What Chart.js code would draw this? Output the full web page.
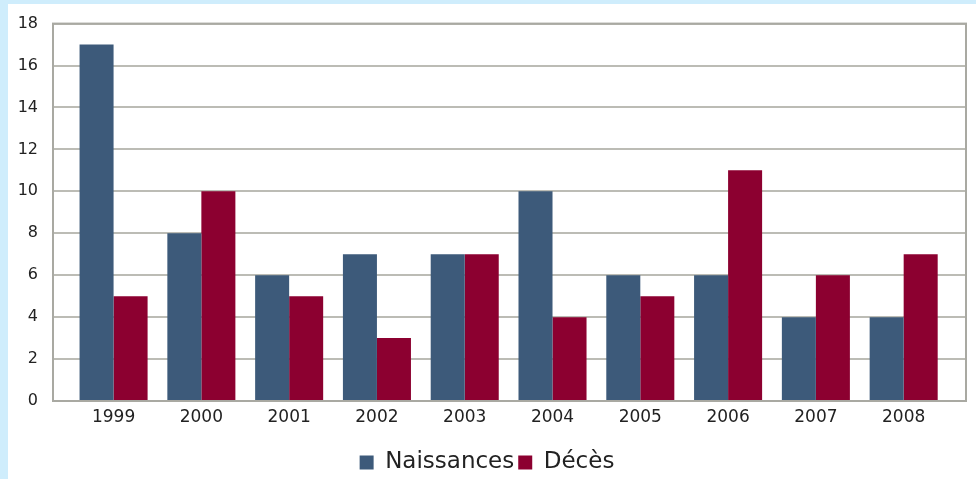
<!DOCTYPE html>
<html>
<head>
<meta charset="utf-8">
<script src="https://cdn.jsdelivr.net/npm/chart.js@4/dist/chart.umd.min.js"></script>
<style>
  html, body { margin: 0; padding: 0; background: #cfedfc; overflow: hidden; }
  #box { position: absolute; left: 8px; top: 4px; width: 968px; height: 475px; background: #fff; overflow: hidden; }
  #wrap { position: absolute; left: 0; top: -5px; width: 968px; height: 485px; }
</style>
</head>
<body>
<div id="box"><div id="wrap"><canvas id="births"></canvas></div></div>
<script>
// Data
const years = ['1999', '2000', '2001', '2002', '2003', '2004', '2005', '2006', '2007', '2008'];
const naissances = [17, 8, 6, 7, 7, 10, 6, 6, 4, 4];
const deces = [5, 10, 5, 3, 7, 4, 5, 11, 6, 7];

// frame round the plot area
const frame = {
  id: 'frame',
  afterDatasetsDraw(chart) {
    const a = chart.chartArea, c = chart.ctx;
    c.save();
    c.strokeStyle = '#a9a9a2';
    c.lineWidth = 2;
    c.strokeRect(a.left, a.top, a.right - a.left, a.bottom - a.top);
    c.restore();
  }
};

const ctx = document.getElementById('births').getContext('2d');
new Chart(ctx, {
  type: 'bar',
  data: {
    datasets: [{
      label: 'Naissances',
      backgroundColor: '#3d5a7a',
      data: naissances.map((v, i) => ({ x: i, y: v }))
    }, {
      label: 'Décès',
      backgroundColor: '#8c0030',
      data: deces.map((v, i) => ({ x: i, y: v }))
    }]
  },
  options: {
    responsive: true,
    maintainAspectRatio: false,
    animation: false,
    categoryPercentage: 0.775,
    barPercentage: 1,
    layout: { padding: { top: 5, right: 10, bottom: 0, left: 0 } },
    plugins: {
      tooltip: { enabled: false },
      legend: {
        position: 'bottom',
        labels: {
          color: '#222',
          font: { family: 'DejaVu Sans', size: 23 },
          boxWidth: 14,
          boxHeight: 14,
          padding: 4
        }
      }
    },
    scales: {
      x: {
        type: 'linear',
        min: -0.69,
        max: 9.71,
        offset: false,
        grid: { display: false, drawTicks: false },
        border: { color: '#a9a9a2', width: 2 },
        afterBuildTicks(s) { s.ticks = years.map((_, i) => ({ value: i })); },
        ticks: {
          autoSkip: false,
          maxRotation: 0,
          color: '#222',
          font: { family: 'DejaVu Sans', size: 17 },
          padding: 6,
          callback: v => years[v]
        },
        afterFit(s) { s.height = 46; }
      },
      y: {
        min: 0,
        max: 18,
        grid: { color: '#bcbcb5', lineWidth: 2, drawTicks: false },
        border: { color: '#a9a9a2', width: 2 },
        ticks: { stepSize: 2, color: '#222', font: { family: 'DejaVu Sans', size: 16 }, padding: 15 },
        afterFit(s) { s.width = 45; }
      }
    }
  },
  plugins: [frame]
});
</script>
</body>
</html>
